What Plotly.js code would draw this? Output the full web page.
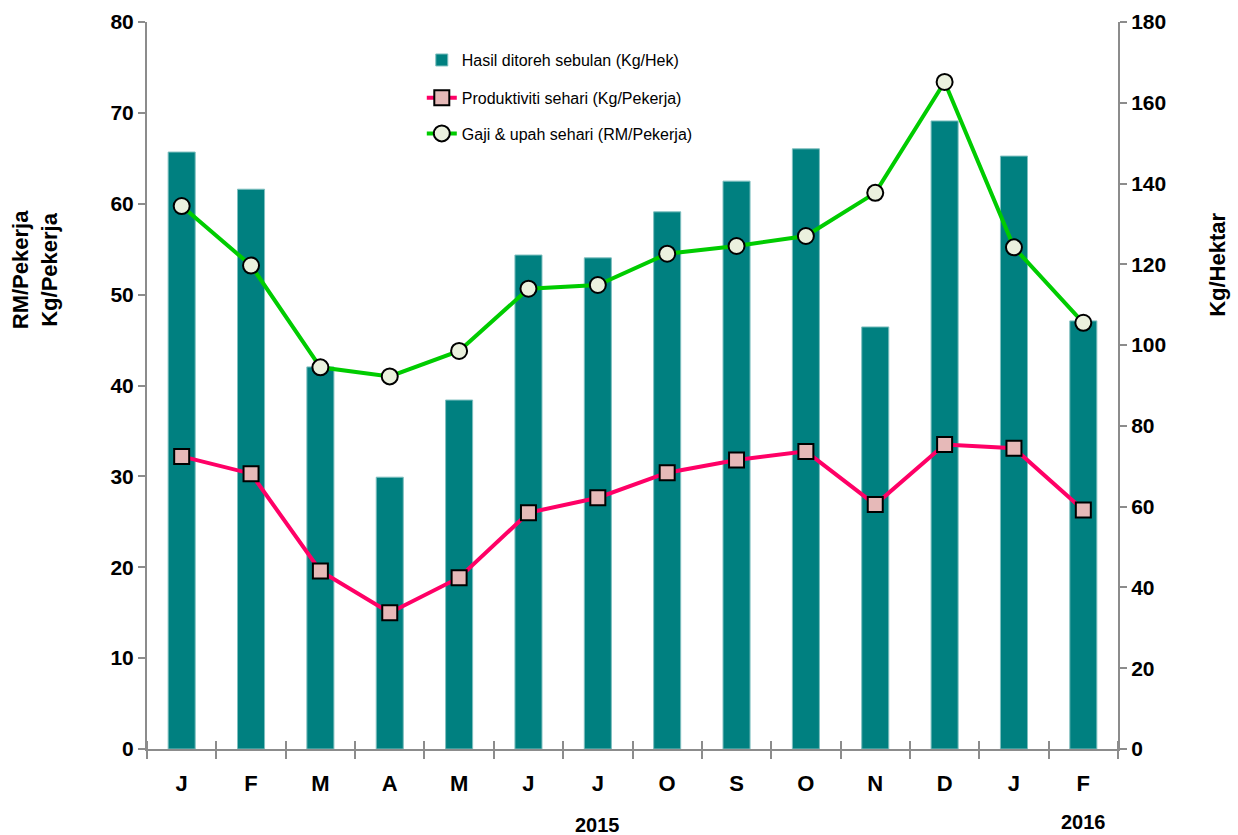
<!DOCTYPE html>
<html>
<head>
<meta charset="utf-8">
<script src="https://cdn.plot.ly/plotly-3.0.1.min.js"></script>
<style>html,body{margin:0;padding:0;background:#fff;}#chart{width:1238px;height:835px;}</style>
</head>
<body>
<div id="chart"></div>
<script>
// Data
const months = ['J','F','M','A','M','J','J','O','S','O','N','D','J','F'];
const yearLabels = ['2015','2016'];
const yearPositions = [6, 13];
const hasilKgHek = [147.8, 138.6, 94.6, 67.3, 86.4, 122.3, 121.6, 133.0, 140.6, 148.6, 104.5, 155.5, 146.8, 106.0];
const produktivitiKgPekerja = [32.2, 30.3, 19.6, 15.0, 18.85, 26.0, 27.65, 30.4, 31.8, 32.75, 26.9, 33.5, 33.1, 26.3];
const gajiRMPekerja = [59.75, 53.2, 42.0, 41.0, 43.8, 50.65, 51.06, 54.5, 55.35, 56.45, 61.2, 73.4, 55.2, 46.9];

const idx = months.map((m, i) => i);
const bounds = months.map((m, i) => i - 0.5).concat([months.length - 0.5]);
const FONT = 'Liberation Sans, Arial, sans-serif';
const AXC = '#8c8c8c';

const traces = [
  {
    type: 'bar', x: idx, y: hasilKgHek, xaxis: 'x', yaxis: 'y',
    name: 'Hasil ditoreh sebulan (Kg/Hek)', width: 0.39,
    marker: {color: '#008080', line: {color: '#7fbfbf', width: 1}},
    legend: 'legend', hoverinfo: 'y'
  },
  {
    type: 'scatter', mode: 'lines+markers', x: idx, y: produktivitiKgPekerja, xaxis: 'x2', yaxis: 'y2',
    name: 'Produktiviti sehari (Kg/Pekerja)',
    line: {color: '#ff0066', width: 4},
    marker: {symbol: 'square', size: 15, color: '#e6b9b8', line: {color: '#000', width: 2}},
    legend: 'legend2'
  },
  {
    type: 'scatter', mode: 'lines+markers', x: idx, y: gajiRMPekerja, xaxis: 'x2', yaxis: 'y2',
    name: 'Gaji & upah sehari (RM/Pekerja)',
    line: {color: '#00cc00', width: 4},
    marker: {symbol: 'circle', size: 16, color: '#ebf1de', line: {color: '#000', width: 2}},
    legend: 'legend3'
  }
];

const legendBase = {
  xref: 'paper', yref: 'paper', xanchor: 'left', yanchor: 'top',
  bgcolor: 'rgba(0,0,0,0)', borderwidth: 0,
  font: {family: FONT, size: 16, color: '#000'}
};

const layout = {
  width: 1238, height: 835,
  margin: {l: 147, r: 120, t: 22, b: 86},
  paper_bgcolor: '#fff', plot_bgcolor: '#fff',
  showlegend: true,
  bargap: 0.6,
  xaxis: {
    range: [-0.5, months.length - 0.5],
    tickmode: 'array', tickvals: idx, ticktext: months,
    ticks: '', ticklabelstandoff: 14,
    tickfont: {family: FONT, size: 22, color: '#000', weight: 'bold'},
    showline: true, linecolor: AXC, linewidth: 2,
    showgrid: false, zeroline: false, fixedrange: true,
    minor: {tickmode: 'array', tickvals: bounds, ticks: 'outside', ticklen: 8, tickcolor: AXC, tickwidth: 2, showgrid: false}
  },
  xaxis2: {
    overlaying: 'x', anchor: 'y2',
    range: [-0.5, months.length - 0.5],
    tickmode: 'array', tickvals: idx, showticklabels: false, ticks: '',
    showline: false, showgrid: false, zeroline: false, fixedrange: true,
    minor: {tickmode: 'array', tickvals: bounds, ticks: 'inside', ticklen: 8, tickcolor: AXC, tickwidth: 2, showgrid: false}
  },
  yaxis: {
    side: 'right', range: [0, 180], dtick: 20, tick0: 0,
    ticks: 'outside', ticklen: 7, tickcolor: AXC, tickwidth: 2,
    tickfont: {family: FONT, size: 21, color: '#000', weight: 'bold'},
    showline: true, linecolor: AXC, linewidth: 2,
    showgrid: false, zeroline: false, fixedrange: true
  },
  yaxis2: {
    overlaying: 'y', side: 'left', range: [0, 80], dtick: 10, tick0: 0,
    ticks: 'outside', ticklen: 7, tickcolor: AXC, tickwidth: 2,
    tickfont: {family: FONT, size: 21, color: '#000', weight: 'bold'},
    showline: true, linecolor: AXC, linewidth: 2,
    showgrid: false, zeroline: false, fixedrange: true
  },
  legend: Object.assign({}, legendBase, {x: 0.283, y: 0.971}),
  legend2: Object.assign({}, legendBase, {x: 0.283, y: 0.919}),
  legend3: Object.assign({}, legendBase, {x: 0.283, y: 0.870}),
  annotations: [
    {
      xref: 'paper', yref: 'paper', x: -0.115, y: 0.659, xanchor: 'center', yanchor: 'middle',
      text: 'RM/Pekerja<br>Kg/Pekerja', textangle: -90, showarrow: false,
      font: {family: FONT, size: 22, color: '#000', weight: 'bold'}
    },
    {
      xref: 'paper', yref: 'paper', x: 1.103, y: 0.666, xanchor: 'center', yanchor: 'middle',
      text: 'Kg/Hektar', textangle: -90, showarrow: false,
      font: {family: FONT, size: 22, color: '#000', weight: 'bold'}
    }
  ].concat(yearLabels.map((t, i) => ({
    xref: 'x', yref: 'paper', x: yearPositions[i], y: i === 0 ? -0.1045 : -0.1, xanchor: 'center', yanchor: 'middle',
    text: t, showarrow: false,
    font: {family: FONT, size: 20, color: '#000', weight: 'bold'}
  })))
};

Plotly.newPlot('chart', traces, layout, {displayModeBar: false, staticPlot: true});
</script>
</body>
</html>
